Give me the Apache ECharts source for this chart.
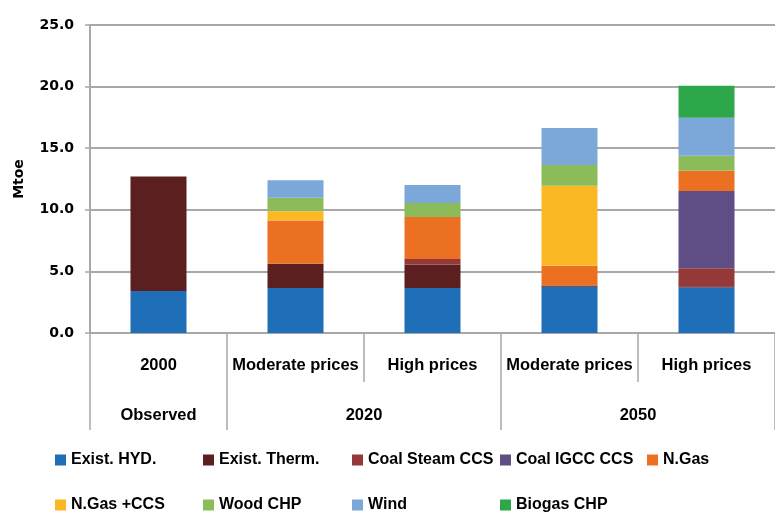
<!DOCTYPE html>
<html>
<head>
<meta charset="utf-8">
<script src="https://cdn.jsdelivr.net/npm/echarts@6/dist/echarts.min.js"></script>
<style>
  html, body { margin: 0; padding: 0; background: #fff; }
  #chart { width: 775px; height: 515px; }
</style>
</head>
<body>
<div id="chart"></div>
<script>
// Scenario columns (first level) and their period groups (second level)
const categories = ['2000', 'Moderate prices', 'High prices', 'Moderate prices', 'High prices'];
const groups = ['Observed', '2020', '2050'];
const groupCenters = [0.5, 2, 4];
const groupBounds = [0, 1, 3, 5];
const yTicks = [0, 5, 10, 15, 20, 25];

// Mtoe by technology, stacked bottom to top
const existHyd     = [3.4, 3.65, 3.65, 3.75, 3.7];
const existTherm   = [9.3, 1.98, 1.92, 0.1, 0.1];
const coalSteamCcs = [0, 0, 0.44, 0, 1.45];
const coalIgccCcs  = [0, 0, 0, 0, 6.27];
const nGas         = [0, 3.5, 3.4, 1.6, 1.65];
const nGasCcs      = [0, 0.75, 0, 6.5, 0];
const woodChp      = [0, 1.09, 1.14, 1.68, 1.22];
const wind         = [0, 1.43, 1.46, 3.0, 3.08];
const biogasChp    = [0, 0, 0, 0, 2.6];

const seriesDefs = [
  { name: 'Exist. HYD.',     data: existHyd,     color: '#1f6fb8' },
  { name: 'Exist. Therm.',   data: existTherm,   color: '#5b1f1f' },
  { name: 'Coal Steam CCS',  data: coalSteamCcs, color: '#953838' },
  { name: 'Coal IGCC CCS',   data: coalIgccCcs,  color: '#5f4d86' },
  { name: 'N.Gas',           data: nGas,         color: '#eb7022' },
  { name: 'N.Gas +CCS',      data: nGasCcs,      color: '#fbb724' },
  { name: 'Wood CHP',        data: woodChp,      color: '#8cbc5a' },
  { name: 'Wind',            data: wind,         color: '#7ba7d9' },
  { name: 'Biogas CHP',      data: biogasChp,    color: '#2ea64a' }
];

const labelFont = "'Liberation Sans', Arial, sans-serif";
const wide = "'DejaVu Sans', sans-serif";
const gridGray = '#a8a8a8';

// Legend laid out as two rows of fixed-width slots
const legendSlots = [
  [55, 452], [203, 452], [352, 452], [500, 452], [647, 452],
  [55, 497], [203, 497], [352, 497], [500, 497]
];
const legends = seriesDefs.map((s, i) => ({
  data: [s.name],
  left: legendSlots[i][0],
  top: legendSlots[i][1],
  padding: 0,
  icon: 'rect',
  itemWidth: 11,
  itemHeight: 11,
  selectedMode: false,
  textStyle: { fontFamily: labelFont, fontWeight: 'bold', fontSize: 16, color: '#000' }
}));

const chart = echarts.init(document.getElementById('chart'), null, { renderer: 'canvas' });
chart.setOption({
  animation: false,
  backgroundColor: '#fff',
  grid: { left: 90, right: -11, top: 25, bottom: 182, containLabel: false },
  legend: legends,
  xAxis: [
    {
      type: 'category',
      data: categories,
      position: 'bottom',
      axisLine: { lineStyle: { color: gridGray, width: 2 } },
      axisTick: { show: true, length: 49, lineStyle: { color: gridGray, width: 1.5 } },
      axisLabel: { margin: 24, fontFamily: labelFont, fontWeight: 'bold', fontSize: 16.5, color: '#000', interval: 0 }
    },
    {
      type: 'value',
      min: 0,
      max: 5,
      position: 'bottom',
      splitLine: { show: false },
      axisLine: { show: false },
      axisTick: { show: true, customValues: groupBounds, length: 97, lineStyle: { color: gridGray, width: 1.5 } },
      axisLabel: {
        customValues: groupCenters,
        margin: 74,
        fontFamily: labelFont, fontWeight: 'bold', fontSize: 16.5, color: '#000',
        formatter: v => groups[groupCenters.indexOf(v)]
      }
    }
  ],
  yAxis: {
    type: 'value',
    min: 0,
    max: 25,
    interval: 5,
    name: 'Mtoe',
    nameLocation: 'middle',
    nameRotate: 90,
    nameGap: 64,
    nameTextStyle: { fontFamily: wide, fontWeight: 'bold', fontSize: 14, color: '#000' },
    axisLine: { show: true, lineStyle: { color: gridGray, width: 2 } },
    axisTick: { show: true, length: 5, lineStyle: { color: gridGray, width: 1.5 } },
    axisLabel: {
      margin: 16,
      fontFamily: wide, fontWeight: 'bold', fontSize: 14, color: '#000',
      formatter: v => yTicks.includes(v) ? v.toFixed(1) : ''
    },
    splitLine: { show: true, lineStyle: { color: gridGray, width: 2 } }
  },
  series: seriesDefs.map(s => ({
    name: s.name,
    type: 'bar',
    stack: 'total',
    xAxisIndex: 0,
    barWidth: 56,
    data: s.data,
    itemStyle: { color: s.color }
  }))
});
</script>
</body>
</html>
